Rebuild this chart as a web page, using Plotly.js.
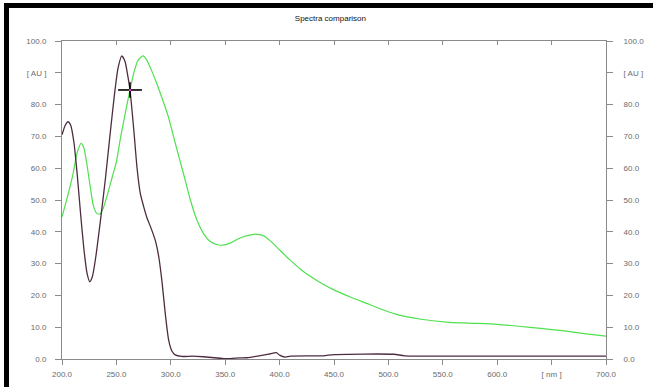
<!DOCTYPE html>
<html>
<head>
<meta charset="utf-8">
<script src="https://cdn.plot.ly/plotly-3.0.1.min.js"></script>
<style>
  html, body { margin: 0; padding: 0; background: #fff; }
  #chart { width: 653px; height: 387px; position: absolute; left: 0; top: 0; }
  .band { position: absolute; background: #000; }
</style>
</head>
<body>
<div id="chart"></div>
<div class="band" style="left:4px; top:3px; width:649px; height:5px;"></div>
<div class="band" style="left:4px; top:3px; width:5px; height:384px;"></div>
<script>
// Wavelength (nm) and absorbance [AU] for the two spectra
const darkNm  = [200, 203, 205.5, 208, 211, 214, 217, 220, 223, 225.5, 228, 231, 235.5, 240, 244, 248.5, 251.5, 255, 258, 260, 262.5, 266, 269, 272, 275, 278, 282, 286, 289, 292, 295, 298, 301, 304, 310, 320, 330, 340, 350, 360, 370, 380, 390, 397, 400, 405, 410, 440, 450, 505, 515, 600, 700];
const darkAU  = [70.5, 73.5, 74.6, 73.5, 68, 58, 46, 35, 27, 24.3, 26, 32, 44, 57, 70, 84, 91.5, 95.3, 93.5, 90, 84.6, 72, 60, 52, 48, 44.5, 41, 37, 32, 24, 14, 6, 2.5, 1.3, 0.8, 0.9, 0.7, 0.4, 0.1, 0.3, 0.4, 0.9, 1.5, 2.0, 1.2, 0.6, 0.9, 1.0, 1.4, 1.5, 1.0, 0.9, 0.9];

const greenNm = [200, 205, 210, 214, 217.5, 220, 223, 226, 229, 232, 235, 238, 242, 246, 250, 254, 258, 262.5, 266, 270, 274.5, 278, 282, 287, 292, 297.7, 304, 311.5, 318, 324, 330, 336, 342, 348, 355, 362, 370, 378, 385, 392, 400, 410, 420, 431, 440, 449, 465, 480, 495, 510, 530, 556, 580, 600, 620, 640, 660, 680, 700];
const greenAU = [44.7, 51, 58, 65, 67.8, 66.5, 61, 54, 48, 45.8, 45.6, 47.5, 52, 57, 62, 70, 77, 84.6, 90, 94, 95.3, 94, 91, 86.7, 82, 76.2, 68, 58.5, 50, 43.7, 39.5, 37, 36, 35.8, 36.5, 37.8, 38.8, 39.3, 38.8, 37, 34.3, 31, 28, 25.4, 23.5, 21.9, 19.5, 17.5, 15.5, 13.8, 12.5, 11.5, 11.2, 10.9, 10.3, 9.6, 8.9, 8.0, 7.2];

// Cursor position
const cursorNm = [262.5];
const cursorAU = [84.6];

// Tick labels
const xTickVals = [200, 250, 300, 350, 400, 450, 500, 550, 600, 650, 700];
const xTickText = ["200.0", "250.0", "300.0", "350.0", "400.0", "450.0", "500.0", "550.0", "600.0", "[ nm ]", "700.0"];
const yTickVals = [0, 10, 20, 30, 40, 50, 60, 70, 80, 90, 100];
const yTickText = ["0.0", "10.0", "20.0", "30.0", "40.0", "50.0", "60.0", "70.0", "80.0", "[ AU ]", "100.0"];

const tickFont = {family: "Liberation Sans, Arial, sans-serif", size: 8, color: "#6a6a6a"};
const axisColor = "#8a8a8a";

const traces = [
  {x: greenNm, y: greenAU, type: "scatter", mode: "lines",
   line: {color: "#4fe04f", width: 1.2, shape: "spline", smoothing: 0.6}, hoverinfo: "skip"},
  {x: darkNm, y: darkAU, type: "scatter", mode: "lines",
   line: {color: "#4e2c40", width: 1.3, shape: "spline", smoothing: 0.6}, hoverinfo: "skip"},
  {x: cursorNm, y: cursorAU, type: "scatter", mode: "markers",
   marker: {symbol: "line-ew-open", size: 17, color: "#000", line: {color: "#000", width: 1.6}}, hoverinfo: "skip"},
  {x: cursorNm, y: cursorAU, type: "scatter", mode: "markers",
   marker: {symbol: "line-ns-open", size: 11, color: "#000", line: {color: "#000", width: 1.6}}, hoverinfo: "skip"},
  {x: cursorNm, y: cursorAU, type: "scatter", mode: "markers",
   marker: {symbol: "square", size: 2, color: "#e040e0", line: {width: 0}}, hoverinfo: "skip"},
  {x: [200], y: [0], xaxis: "x2", yaxis: "y2", type: "scatter", mode: "markers",
   marker: {opacity: 0}, hoverinfo: "skip"}
];

const layout = {
  width: 653, height: 387,
  margin: {l: 62, r: 47, t: 41, b: 28, pad: 0},
  paper_bgcolor: "#fff", plot_bgcolor: "#fff",
  showlegend: false,
  title: {text: "Spectra comparison", x: 0.506, xanchor: "center", y: 0.953, yanchor: "middle",
          font: {family: "Liberation Sans, Arial, sans-serif", size: 8, color: "#111"}},
  xaxis: {range: [200, 700], tickvals: xTickVals, ticktext: xTickText,
          showgrid: false, zeroline: false, showline: true, linecolor: axisColor, linewidth: 1,
          ticks: "outside", ticklen: 5, tickcolor: axisColor, tickfont: tickFont, ticklabelstandoff: 2},
  xaxis2: {range: [200, 700], overlaying: "x", side: "top", tickvals: xTickVals,
           showticklabels: false, showgrid: false, zeroline: false, showline: true,
           linecolor: axisColor, ticks: "inside", ticklen: 4, tickcolor: axisColor},
  yaxis: {range: [0, 100], tickvals: yTickVals, ticktext: yTickText,
          showgrid: false, zeroline: false, showline: true, linecolor: axisColor, linewidth: 1,
          ticks: "outside", ticklen: 6, tickcolor: axisColor, tickfont: tickFont, ticklabelstandoff: 7},
  yaxis2: {range: [0, 100], overlaying: "y", side: "right", tickvals: yTickVals, ticktext: yTickText,
           showgrid: false, zeroline: false, showline: true, linecolor: axisColor, linewidth: 1,
           ticks: "outside", ticklen: 6, tickcolor: axisColor, tickfont: tickFont, ticklabelstandoff: 9}
};

Plotly.newPlot("chart", traces, layout, {staticPlot: true, displayModeBar: false});
</script>
</body>
</html>
